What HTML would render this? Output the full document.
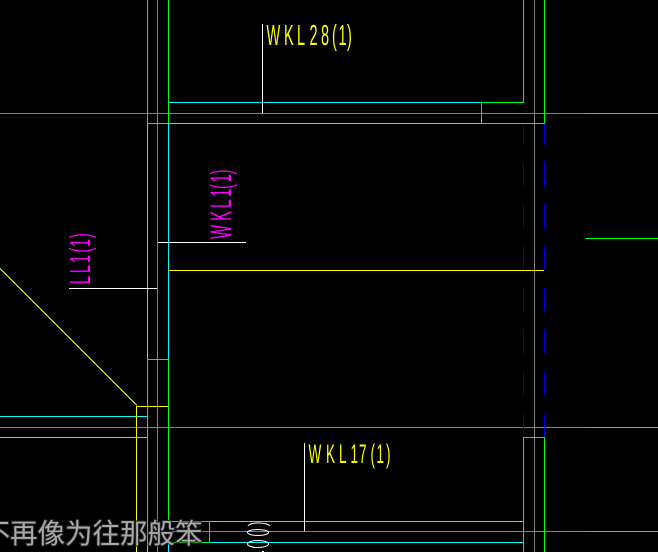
<!DOCTYPE html>
<html><head><meta charset="utf-8"><style>
html,body{margin:0;padding:0;background:#000;width:658px;height:552px;overflow:hidden}
svg{display:block}
.t{font-family:"Liberation Sans",sans-serif}
</style></head><body>
<svg width="658" height="552" viewBox="0 0 658 552" xmlns="http://www.w3.org/2000/svg">
<rect width="658" height="552" fill="#000"/>
<g shape-rendering="crispEdges" stroke-width="1" fill="none">
<g stroke="#808080">
<path d="M157.5 0V552M534.5 0V552M0 113.5H585M0 427.5H585M168 531.5H585"/>
</g>
<g stroke="#00ff00">
<path d="M585 113.5H658M585 238.5H658M585 427.5H658M585 531.5H658"/>
<path d="M147.5 0V123.5H168.5V0"/>
<path d="M523.5 0V102.5H481.5V123.5H544.5V0"/>
<path d="M147.5 359.5H168.5M147.5 359V545M168.5 359V521.5H209.5V542.5H168.5"/>
<path d="M523.5 552V437.5H544.5V552"/>
</g>
<g stroke="#00ffff">
<path d="M168 102.5H481M168 123.5H481M147.5 124V359M168.5 124V359"/>
<path d="M0 416.5H147M0 437.5H147"/>
<path d="M210 521.5H523M210 542.5H523M147.5 545V552M168.5 542V552"/>
</g>
<g stroke="#ffff00">
<path d="M168 270.5H544M136.5 552V406.5H168"/>
<path d="M0 268.5L137 405.5"/>
</g>
<g stroke="#ffffff">
<path d="M262.5 24V113M158 242.5H246M69 288.5H157M304.5 443V531"/>
</g>
<g stroke="#0000a8">
<path d="M523.5 124V145M523.5 162V187M523.5 204V229M523.5 245V270M523.5 287V312M523.5 329V354M523.5 371V396M523.5 413V437"/>
</g>
<g stroke="#0000d0">
<path d="M544.5 124V145M544.5 162V187M544.5 204V229M544.5 245V270M544.5 287V312M544.5 329V354M544.5 371V396M544.5 413V437"/>
</g>
</g>
<g fill="none" stroke="#fff" stroke-width="1">
<path d="M248 526C250 522 266 522 270 526"/>
<ellipse cx="258" cy="532.5" rx="10.5" ry="3"/>
<ellipse cx="258" cy="544" rx="10.5" ry="3.5"/>
</g>
<rect x="262" y="551" width="2" height="1" fill="#fff"/>
<!-- labels: x lists are glyph origins in pre-scale coordinates (scale .5 horizontally) -->
<g transform="scale(.5 1)">
<text class="t" x="533 568 594 619 642 664 677 694" y="45" font-size="29" fill="#ffff00">WKL28(1)</text>
<text class="t" x="617 652 678 701 718 741 753 772" y="463" font-size="27" fill="#ffff00">WKL17(1)</text>
</g>
<g transform="translate(231 239) rotate(-90) scale(.5 1)">
<text class="t" x="0 36 62 84 100 113 129" y="0" font-size="30" fill="#ff00ff">WKL1(1)</text>
</g>
<g transform="translate(90 283) rotate(-90) scale(.5 1)">
<text class="t" x="-2 20 40 61 72 90" y="0" font-size="29" fill="#ff00ff">LL1(1)</text>
</g>
<text x="-17.5" y="543" font-size="27.5" font-family="'Liberation Sans','Noto Sans CJK SC',sans-serif" fill="#b0b0b0" stroke="#222" stroke-width="2" paint-order="stroke" fill-opacity=".95">不再像为往那般笨</text>
</svg>
</body></html>
